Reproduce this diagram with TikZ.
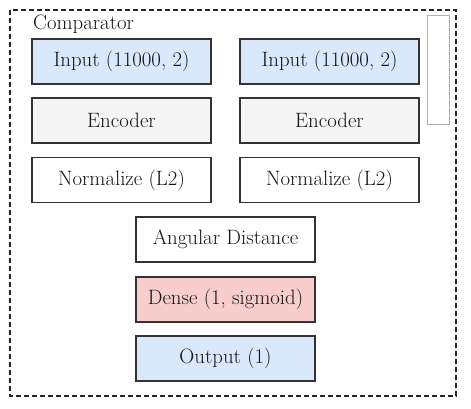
\documentclass[tikz,border=0pt]{standalone}
\usepackage{xcolor}
\definecolor{inblue}{HTML}{DAE8FC}
\definecolor{encgray}{HTML}{F5F5F5}
\definecolor{densered}{HTML}{F8CECC}
\definecolor{edgegray}{HTML}{333333}
\definecolor{txtgray}{HTML}{151515}
\definecolor{sidegray}{HTML}{B0B0B0}
\tikzset{
  layer/.style={draw=edgegray, line width=1.4pt, minimum width=179pt, minimum height=45pt,
    inner sep=0pt, text=txtgray, font=\fontsize{20.8}{24}\selectfont},
  bluebox/.style={layer, fill=inblue},
  graybox/.style={layer, fill=encgray},
  whitebox/.style={layer, fill=white},
  redbox/.style={layer, fill=densered},
}
\begin{document}
\begin{tikzpicture}[x=1pt,y=-1pt]
\useasboundingbox[fill=white] (0,0) rectangle (471,409);
\draw[line width=1.8pt, dash pattern=on 5pt off 3pt, draw=black!85] (10,10) rectangle (456,396);
\node[anchor=west, text=txtgray, font=\fontsize{20.8}{24}\selectfont, inner sep=0pt] (title) at (33,24) {Comparator};
\draw[draw=sidegray, line width=0.6pt, fill=white] (427.5,15) rectangle (449,124);
\node[bluebox] (inA) at (121.5,61.5) {Input (11000, 2)};
\node[bluebox] (inB) at (329.5,61.5) {Input (11000, 2)};
\node[graybox] (encA) at (121.5,120.5) {Encoder};
\node[graybox] (encB) at (329.5,120.5) {Encoder};
\node[whitebox] (normA) at (121.5,180) {Normalize (L2)};
\node[whitebox] (normB) at (329.5,180) {Normalize (L2)};
\node[whitebox] (ang) at (225.5,239.5) {Angular Distance};
\node[redbox] (dense) at (225.5,299.5) {Dense (1, sigmoid)};
\node[bluebox] (out) at (225.5,358.5) {Output (1)};
\end{tikzpicture}
\end{document}
